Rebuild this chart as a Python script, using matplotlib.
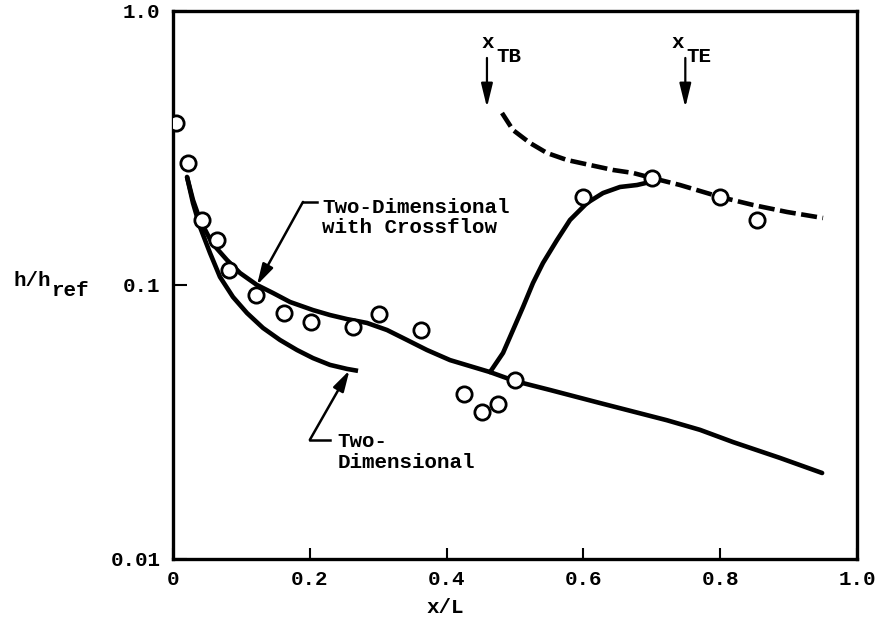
import matplotlib
matplotlib.use('Agg')
import matplotlib.pyplot as plt

plt.rcParams['font.family'] = ['Liberation Mono', 'DejaVu Sans Mono']
plt.rcParams['font.weight'] = 'bold'

# measured heat transfer ratio
x_data = [0.004, 0.022, 0.042, 0.064, 0.082, 0.121, 0.162, 0.202, 0.263, 0.301,
          0.363, 0.425, 0.452, 0.475, 0.500, 0.599, 0.700, 0.800, 0.854]
h_data = [0.39, 0.279, 0.173, 0.146, 0.1135, 0.092, 0.079, 0.0733, 0.0703, 0.0784,
          0.0685, 0.040, 0.0344, 0.0368, 0.045, 0.210, 0.246, 0.210, 0.173]

# two-dimensional with crossflow (laminar)
x_cross = [0.0205, 0.0292, 0.0395, 0.057, 0.0789, 0.098, 0.1228, 0.1462, 0.1711,
           0.2047, 0.2295, 0.2544, 0.2836, 0.3129, 0.3421, 0.3713, 0.405, 0.4635,
           0.500, 0.551, 0.624, 0.722, 0.7705, 0.819, 0.887, 0.949]
h_cross = [0.248, 0.2043, 0.1727, 0.1423, 0.1234, 0.1106, 0.100, 0.0935, 0.0867,
           0.0810, 0.0777, 0.0751, 0.0727, 0.0685, 0.0630, 0.0579, 0.0532, 0.0481,
           0.0446, 0.0414, 0.0371, 0.0321, 0.0296, 0.0267, 0.0234, 0.0206]

# two-dimensional only
x_2d = [0.0205, 0.0292, 0.0395, 0.0541, 0.0687, 0.0877, 0.1082, 0.1316, 0.1564,
        0.1813, 0.2047, 0.2295, 0.2544, 0.2705]
h_2d = [0.248, 0.1992, 0.1628, 0.1309, 0.1070, 0.0904, 0.0790, 0.0697, 0.0630,
        0.0579, 0.0541, 0.0511, 0.0494, 0.0486]

# transition branch
x_tr = [0.4635, 0.4825, 0.4971, 0.5117, 0.5263, 0.5409, 0.5614, 0.5804, 0.6053,
        0.6287, 0.6535, 0.6784, 0.6974]
h_tr = [0.0481, 0.0565, 0.0685, 0.0831, 0.1017, 0.1203, 0.1459, 0.1727, 0.1992,
        0.2166, 0.2279, 0.2317, 0.2376]

# turbulent (dashed)
x_turb = [0.481, 0.497, 0.522, 0.5468, 0.576, 0.6096, 0.6433, 0.6725, 0.7003,
          0.7412, 0.7997, 0.848, 0.8977, 0.9503]
h_turb = [0.4244, 0.3679, 0.3298, 0.3032, 0.2859, 0.2741, 0.2629, 0.2564, 0.2458,
          0.2317, 0.2096, 0.1959, 0.1847, 0.1756]

x_tb = 0.459
x_te = 0.749

fig = plt.figure(figsize=(8.83, 6.29), dpi=100)
ax = fig.add_axes([173 / 883, 1 - 559 / 629, 684 / 883, 548 / 629])

ax.plot(x_cross, h_cross, color='black', lw=3.3, solid_capstyle='round',
        solid_joinstyle='round')
ax.plot(x_2d, h_2d, color='black', lw=3.3, solid_capstyle='butt',
        solid_joinstyle='round')
ax.plot(x_tr, h_tr, color='black', lw=3.3, solid_capstyle='round',
        solid_joinstyle='round')
ax.plot(x_turb, h_turb, color='black', lw=3.3, dashes=(3.5, 1.2),
        dash_joinstyle='round')
ax.plot(x_data, h_data, 'o', ms=11, mfc='white', mec='black', mew=2, zorder=5)

ax.set_yscale('log')
ax.set_xlim(0, 1.0)
ax.set_ylim(0.01, 1.0)
ax.set_xticks([0, 0.2, 0.4, 0.6, 0.8, 1.0])
ax.set_xticklabels(['0', '0.2', '0.4', '0.6', '0.8', '1.0'])
ax.set_yticks([0.01, 0.1, 1.0])
ax.set_yticklabels(['0.01', '0.1', '1.0'])
ax.yaxis.set_minor_locator(matplotlib.ticker.NullLocator())
ax.tick_params(axis='x', direction='in', length=8, width=1.5, pad=8, labelsize=15)
ax.tick_params(axis='y', direction='in', length=10, width=1.5, pad=9, labelsize=15)
for s in ax.spines.values():
    s.set_linewidth(2.4)

# transition begin / end markers
arrow_kw = dict(arrowstyle='-|>,head_length=0.9,head_width=0.22', lw=1.6,
                color='black', mutation_scale=16, shrinkA=0, shrinkB=0)
for xv in (x_tb, x_te):
    ax.annotate('', xy=(xv, 0.445), xytext=(xv, 0.674), arrowprops=arrow_kw)
fig.text(488 / 883, 1 - 42 / 629, 'x', fontsize=15, ha='center', va='center')
fig.text(509 / 883, 1 - 56 / 629, 'TB', fontsize=15, ha='center', va='center')
fig.text(678 / 883, 1 - 42 / 629, 'x', fontsize=15, ha='center', va='center')
fig.text(699 / 883, 1 - 56 / 629, 'TE', fontsize=15, ha='center', va='center')

# curve labels with leaders
lead_kw = dict(arrowstyle='-|>,head_length=0.9,head_width=0.25', lw=1.8,
               color='black', mutation_scale=14, shrinkA=0, shrinkB=0)
ax.annotate('', xy=(0.1228, 0.1), xytext=(0.190, 0.201), arrowprops=lead_kw)
ax.plot([0.190, 0.2105], [0.201, 0.201], color='black', lw=1.8)
ax.text(0.218, 0.176, 'Two-Dimensional\nwith Crossflow', fontsize=15,
        ha='left', va='center', linespacing=1.1)

ax.annotate('', xy=(0.258, 0.0488), xytext=(0.200, 0.0272), arrowprops=lead_kw)
ax.plot([0.200, 0.2295], [0.0272, 0.0272], color='black', lw=1.8)
ax.text(0.240, 0.0246, 'Two-\nDimensional', fontsize=15,
        ha='left', va='center', linespacing=1.1)

# axis titles
ax.text(0.398, -0.089, 'x/L', transform=ax.transAxes, fontsize=15,
        ha='center', va='center')
fig.text(32 / 883, 1 - 281 / 629, 'h/h', fontsize=15, ha='center', va='center')
fig.text(70 / 883, 1 - 290 / 629, 'ref', fontsize=15, ha='center', va='center')

fig.savefig('out.png', dpi=100)
